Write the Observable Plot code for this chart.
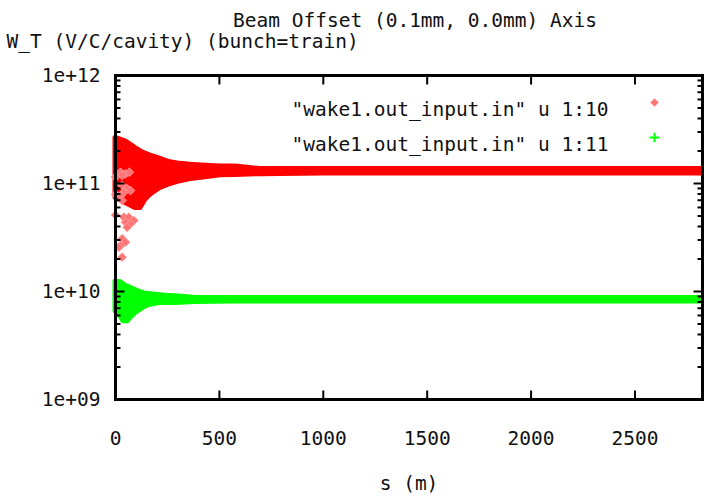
<!DOCTYPE html>
<html><head><meta charset="utf-8">
<script src="https://cdn.jsdelivr.net/npm/d3@7"></script>
<script src="https://cdn.jsdelivr.net/npm/@observablehq/plot@0.6"></script>
<style>html,body{margin:0;padding:0;background:#fff} svg{display:block}</style>
</head><body><div id="chart"></div>
<script>
// ---- text ----
const titleText = "Beam Offset (0.1mm, 0.0mm) Axis";
const yTitle = "W_T (V/C/cavity) (bunch=train)";
const xTitle = "s (m)";
const legendLabels = ["\"wake1.out_input.in\" u 1:10", "\"wake1.out_input.in\" u 1:11"];

// ---- ticks ----
const xMajor = [0, 500, 1000, 1500, 2000, 2500];
const xTickLabels = ["0", "500", "1000", "1500", "2000", "2500"];
const yMajor = [1e9, 1e10, 1e11, 1e12];
const yTickLabels = ["1e+09", "1e+10", "1e+11", "1e+12"];
const yMinor = [1e9, 1e10, 1e11].flatMap(d => [2,3,4,5,6,7,8,9].map(m => m * d));

// ---- column 10 (red): envelope of the dense oscillating points ----
const redS  = [0, 24, 48, 72, 96, 120, 144, 168, 192, 216, 264, 312, 361, 433, 505, 577, 697, 1000, 1500, 2000, 2500, 2825];
const redHi = [2.64e11, 2.55e11, 2.46e11, 2.29e11, 2.13e11, 1.99e11, 1.89e11, 1.81e11, 1.75e11, 1.69e11, 1.57e11, 1.52e11, 1.49e11, 1.46e11, 1.44e11, 1.44e11, 1.36e11, 1.36e11, 1.36e11, 1.36e11, 1.36e11, 1.36e11];
const redLo = [7.35e10, 7.0e10, 6.6e10, 6.25e10, 5.93e10, 5.93e10, 7.08e10, 7.87e10, 8.47e10, 9.09e10, 9.9e10, 1.05e11, 1.1e11, 1.14e11, 1.19e11, 1.2e11, 1.22e11, 1.24e11, 1.24e11, 1.24e11, 1.24e11, 1.24e11];
// scattered low points of column 10 near s = 0
const redOutS = [0, 0, 0, 24, 48, 67, 32, 32, 56, 40, 72, 24, 32, 40, 64, 88, 48, 72, 56, 32, 48, 24, 16, 32];
const redOutV = [1.15e11, 7.9e10, 5.1e10, 1.27e11, 1.23e11, 1.27e11, 1.19e11, 9.58e10, 8.93e10, 8.3e10, 8.6e10, 7.74e10, 6.97e10, 4.88e10, 4.88e10, 4.54e10, 4.38e10, 4.24e10, 3.94e10, 3.08e10, 2.86e10, 2.67e10, 2.57e10, 2.08e10];

// ---- column 11 (green): envelope ----
const greenS  = [0, 24, 38, 48, 58, 72, 96, 120, 144, 168, 192, 216, 240, 288, 337, 385, 577, 1000, 1500, 2000, 2500, 2825];
const greenHi = [1.24e10, 1.22e10, 1.17e10, 1.13e10, 1.11e10, 1.08e10, 1.03e10, 9.89e9, 9.55e9, 9.45e9, 9.34e9, 9.24e9, 9.14e9, 9.03e9, 8.89e9, 8.7e9, 8.7e9, 8.7e9, 8.7e9, 8.7e9, 8.7e9, 8.7e9];
const greenLo = [6.57e9, 5.89e9, 5.29e9, 5.29e9, 5.29e9, 5.69e9, 6.33e9, 6.78e9, 7.29e9, 7.55e9, 7.7e9, 7.83e9, 7.83e9, 7.83e9, 7.9e9, 8.0e9, 8.1e9, 8.1e9, 8.1e9, 8.1e9, 8.1e9, 8.1e9];

const redBand = redS.map((s, i) => ({s, hi: redHi[i], lo: redLo[i]}));
const greenBand = greenS.map((s, i) => ({s, hi: greenHi[i], lo: greenLo[i]}));
const redOut = redOutS.map((s, i) => ({s, v: redOutV[i]}));

const RED = "#ff0000", GREEN = "#00ff00";

// inward tick symbols (length = r), like gnuplot's mirrored inward tics
const tickSym = (dx, dy) => ({draw(ctx, size) { const r = Math.sqrt(size / Math.PI); ctx.moveTo(0, 0); ctx.lineTo(dx * r, dy * r); }});
const inRight = tickSym(1, 0), inLeft = tickSym(-1, 0), inUp = tickSym(0, -1), inDown = tickSym(0, 1);

const chart = Plot.plot({
  width: 704, height: 500,
  marginLeft: 115, marginRight: 2, marginTop: 75, marginBottom: 101,
  style: {fontFamily: "'DejaVu Sans Mono', monospace", fontSize: "19.5px", color: "#111", background: "#fff"},
  x: {domain: [0, 2825]},
  y: {type: "log", domain: [1e9, 1e12]},
  marks: [
    Plot.areaY(redBand, {x: "s", y1: "lo", y2: "hi", fill: RED, stroke: RED, strokeWidth: 5, strokeLinejoin: "round"}),
    Plot.dot(redOut, {x: "s", y: "v", symbol: "diamond2", r: 4, fill: "#ff7474", stroke: "#ffa0a0", strokeWidth: 0.8}),
    Plot.areaY(greenBand, {x: "s", y1: "lo", y2: "hi", fill: GREEN, stroke: GREEN, strokeWidth: 5, strokeLinejoin: "round"}),
    // tick labels
    Plot.axisY({anchor: "left", ticks: yMajor, tickSize: 0, tickPadding: 15, tickFormat: d => yTickLabels[yMajor.indexOf(d)], label: null}),
    Plot.axisX({anchor: "bottom", ticks: xMajor, tickSize: 0, tickPadding: 32, tickFormat: d => xTickLabels[xMajor.indexOf(d)], label: null}),
    // inward ticks on all four sides
    Plot.dot(yMajor, {y: d => d, frameAnchor: "left", symbol: inRight, r: 9, stroke: "black", strokeWidth: 2, fill: "none"}),
    Plot.dot(yMinor, {y: d => d, frameAnchor: "left", symbol: inRight, r: 5, stroke: "black", strokeWidth: 2, fill: "none"}),
    Plot.dot(yMajor, {y: d => d, frameAnchor: "right", symbol: inLeft, r: 9, stroke: "black", strokeWidth: 2, fill: "none"}),
    Plot.dot(yMinor, {y: d => d, frameAnchor: "right", symbol: inLeft, r: 5, stroke: "black", strokeWidth: 2, fill: "none"}),
    Plot.dot(xMajor, {x: d => d, frameAnchor: "bottom", symbol: inUp, r: 9, stroke: "black", strokeWidth: 2, fill: "none"}),
    Plot.dot(xMajor, {x: d => d, frameAnchor: "top", symbol: inDown, r: 9, stroke: "black", strokeWidth: 2, fill: "none"}),
    Plot.frame({stroke: "black", strokeWidth: 3}),
    // legend
    Plot.text([legendLabels[0]], {text: d => d, frameAnchor: "top-right", textAnchor: "end", dx: -94, dy: 27, fill: "#111"}),
    Plot.text([legendLabels[1]], {text: d => d, frameAnchor: "top-right", textAnchor: "end", dx: -94, dy: 62, fill: "#111"}),
    Plot.dot([legendLabels[0]], {frameAnchor: "top-right", dx: -48, dy: 27, symbol: "diamond2", r: 3.6, fill: "#ff7474", stroke: "#ffa0a0", strokeWidth: 0.8}),
    Plot.dot([legendLabels[1]], {frameAnchor: "top-right", dx: -48, dy: 62, symbol: "plus", r: 3.2, stroke: GREEN, strokeWidth: 1.8}),
    // titles
    Plot.text([titleText], {text: d => d, frameAnchor: "top", dx: 6, dy: -62, fill: "#111"}),
    Plot.text([yTitle], {text: d => d, frameAnchor: "top-left", textAnchor: "start", dx: -109, dy: -41, fill: "#111"}),
    Plot.text([xTitle], {text: d => d, frameAnchor: "bottom", dy: 90, fill: "#111"})
  ]
});
document.getElementById("chart").appendChild(chart);
</script>
</body></html>
